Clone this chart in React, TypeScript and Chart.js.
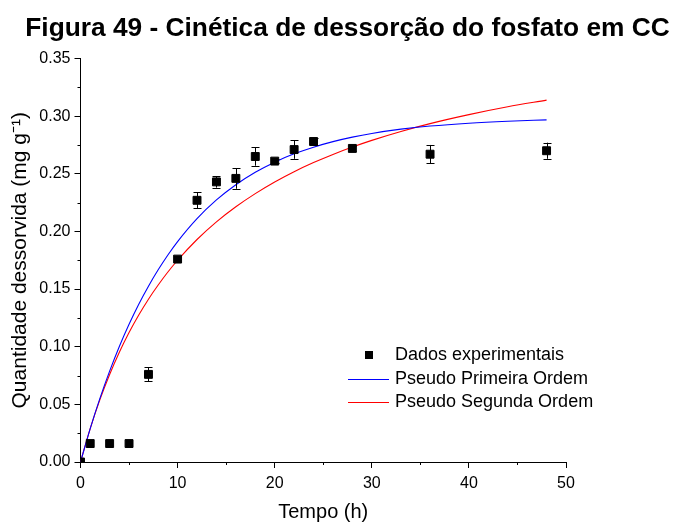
import React, { useEffect, useRef } from "react";
import { Chart, registerables } from "chart.js";

Chart.register(...registerables);

// Experimental data
const timeH = [0, 1, 3, 5, 7, 10, 12, 14, 16, 18, 20, 22, 24, 28, 36, 48];
const qExp = [0, 0.016, 0.016, 0.016, 0.076, 0.176, 0.227, 0.243, 0.246, 0.265, 0.261, 0.271, 0.278, 0.272, 0.267, 0.270];
const qErr = [0, 0, 0, 0, 0.006, 0, 0.007, 0.005, 0.009, 0.008, 0.002, 0.008, 0.003, 0.002, 0.008, 0.007];

// Fitted curves
const curveT = [0, 1, 2, 3, 4, 5, 6, 7, 8, 9, 10, 12, 14, 16, 18, 20, 22, 24, 26, 28, 30, 33, 36, 40, 44, 48];
const qFirstOrder = [0, 0.029, 0.0552, 0.0788, 0.1002, 0.1195, 0.1369, 0.1525, 0.1667, 0.1796, 0.1912, 0.2111, 0.2273, 0.2405, 0.2513, 0.2601, 0.2673, 0.2731, 0.2779, 0.2818, 0.285, 0.2887, 0.2914, 0.2939, 0.2956, 0.2968];
const qSecondOrder = [0, 0.029, 0.0541, 0.0759, 0.0952, 0.1123, 0.1275, 0.1412, 0.1535, 0.1648, 0.175, 0.193, 0.2083, 0.2214, 0.2328, 0.2429, 0.2518, 0.2597, 0.2668, 0.2732, 0.279, 0.2867, 0.2935, 0.3013, 0.3081, 0.3139];

const xTicksMinor = [5, 15, 25, 35, 45];
const yTicksMinor = [0.025, 0.075, 0.125, 0.175, 0.225, 0.275, 0.325];

const titleText = "Figura 49 - Cinética de dessorção do fosfato em CC";
const xLabel = "Tempo (h)";
const yLabel = "Quantidade dessorvida (mg g⁻¹)";
const legendLabels = ["Dados experimentais", "Pseudo Primeira Ordem", "Pseudo Segunda Ordem"];

const FONT = "'Liberation Sans', Arial, Helvetica, sans-serif";

export default function App() {
  const ref = useRef<HTMLCanvasElement | null>(null);

  useEffect(() => {
    document.body.style.margin = "0";
    const canvas = ref.current;
    if (!canvas) return;

    const extras = {
      id: "extras",
      afterDatasetsDraw(chart: any) {
        const ctx = chart.ctx;
        const xs = chart.scales.x;
        const ys = chart.scales.y;
        ctx.save();
        ctx.strokeStyle = "#000";
        ctx.lineWidth = 1;
        for (let i = 0; i < timeH.length; i++) {
          if (!qErr[i]) continue;
          const px = Math.round(xs.getPixelForValue(timeH[i])) + 0.5;
          const yTop = ys.getPixelForValue(qExp[i] + qErr[i]);
          const yBot = ys.getPixelForValue(qExp[i] - qErr[i]);
          ctx.beginPath();
          ctx.moveTo(px, yTop);
          ctx.lineTo(px, yBot);
          ctx.moveTo(px - 4, Math.round(yTop) + 0.5);
          ctx.lineTo(px + 4, Math.round(yTop) + 0.5);
          ctx.moveTo(px - 4, Math.round(yBot) + 0.5);
          ctx.lineTo(px + 4, Math.round(yBot) + 0.5);
          ctx.stroke();
        }
        ctx.restore();
      },
      afterDraw(chart: any) {
        const ctx = chart.ctx;
        const xs = chart.scales.x;
        const ys = chart.scales.y;
        const area = chart.chartArea;
        ctx.save();
        // minor ticks
        ctx.strokeStyle = "#000";
        ctx.lineWidth = 1;
        ctx.beginPath();
        for (const v of xTicksMinor) {
          const px = Math.round(xs.getPixelForValue(v)) + 0.5;
          ctx.moveTo(px, area.bottom);
          ctx.lineTo(px, area.bottom + 3);
        }
        for (const v of yTicksMinor) {
          const py = Math.round(ys.getPixelForValue(v)) + 0.5;
          ctx.moveTo(area.left, py);
          ctx.lineTo(area.left - 3, py);
        }
        ctx.stroke();

        // title
        ctx.fillStyle = "#000";
        ctx.font = `bold 26.3px ${FONT}`;
        ctx.textAlign = "center";
        ctx.textBaseline = "alphabetic";
        ctx.fillText(titleText, 347.5, 36);

        // legend
        ctx.font = `18px ${FONT}`;
        ctx.textAlign = "left";
        ctx.textBaseline = "middle";
        ctx.fillStyle = "#000";
        ctx.fillRect(365, 351, 8, 8);
        ctx.fillText(legendLabels[0], 395, 355);
        ctx.strokeStyle = "#0000ff";
        ctx.beginPath();
        ctx.moveTo(348, 379.5);
        ctx.lineTo(389, 379.5);
        ctx.stroke();
        ctx.fillText(legendLabels[1], 395, 379);
        ctx.strokeStyle = "#ff0000";
        ctx.beginPath();
        ctx.moveTo(348, 402.5);
        ctx.lineTo(389, 402.5);
        ctx.stroke();
        ctx.fillText(legendLabels[2], 395, 402);
        ctx.restore();
      },
    };

    const chart = new Chart(canvas, {
      type: "scatter",
      data: {
        datasets: [
          {
            label: legendLabels[0],
            data: timeH.map((t, i) => ({ x: t, y: qExp[i] })),
            backgroundColor: "#000",
            borderColor: "#000",
            pointStyle: "rect",
            pointRadius: 5.6,
            pointBorderWidth: 1,
            showLine: false,
            order: 0,
            clip: 0,
          },
          {
            label: legendLabels[1],
            data: curveT.map((t, i) => ({ x: t, y: qFirstOrder[i] })),
            borderColor: "#0000ff",
            backgroundColor: "#0000ff",
            borderWidth: 1.1,
            pointRadius: 0,
            showLine: true,
            cubicInterpolationMode: "monotone",
            order: 1,
          },
          {
            label: legendLabels[2],
            data: curveT.map((t, i) => ({ x: t, y: qSecondOrder[i] })),
            borderColor: "#ff0000",
            backgroundColor: "#ff0000",
            borderWidth: 1.1,
            pointRadius: 0,
            showLine: true,
            cubicInterpolationMode: "monotone",
            order: 2,
          },
        ],
      } as any,
      options: {
        responsive: false,
        animation: false,
        devicePixelRatio: 1,
        layout: { padding: { left: 0, right: 109, top: 58.5, bottom: 0 } },
        plugins: {
          legend: { display: false },
          tooltip: { enabled: false },
          title: { display: false },
        },
        scales: {
          x: {
            type: "linear",
            min: 0,
            max: 50,
            afterFit: (s: any) => {
              s.height = 63;
            },
            ticks: {
              stepSize: 10,
              color: "#000",
              padding: 6,
              font: { family: FONT, size: 16 },
              maxRotation: 0,
            },
            grid: {
              display: true,
              drawOnChartArea: false,
              drawTicks: true,
              tickLength: 6,
              color: "#000",
            },
            border: { display: true, color: "#000", width: 1 },
            title: {
              display: true,
              text: xLabel,
              color: "#000",
              font: { family: FONT, size: 20 },
              padding: { top: 0, bottom: 1 },
            },
          },
          y: {
            type: "linear",
            min: 0,
            max: 0.35,
            afterFit: (s: any) => {
              s.width = 80.5;
            },
            ticks: {
              stepSize: 0.05,
              color: "#000",
              padding: 4,
              font: { family: FONT, size: 16 },
              callback: (v: any) => Number(v).toFixed(2),
            },
            grid: {
              display: true,
              drawOnChartArea: false,
              drawTicks: true,
              tickLength: 6,
              color: "#000",
            },
            border: { display: true, color: "#000", width: 1 },
            title: {
              display: true,
              text: yLabel,
              color: "#000",
              font: { family: FONT, size: 21 },
              padding: { top: 8, bottom: 0 },
            },
          },
        },
      } as any,
      plugins: [extras],
    });

    return () => chart.destroy();
  }, []);

  return (
    <div style={{ width: 675, height: 525 }}>
      <canvas ref={ref} width={675} height={525} />
    </div>
  );
}
